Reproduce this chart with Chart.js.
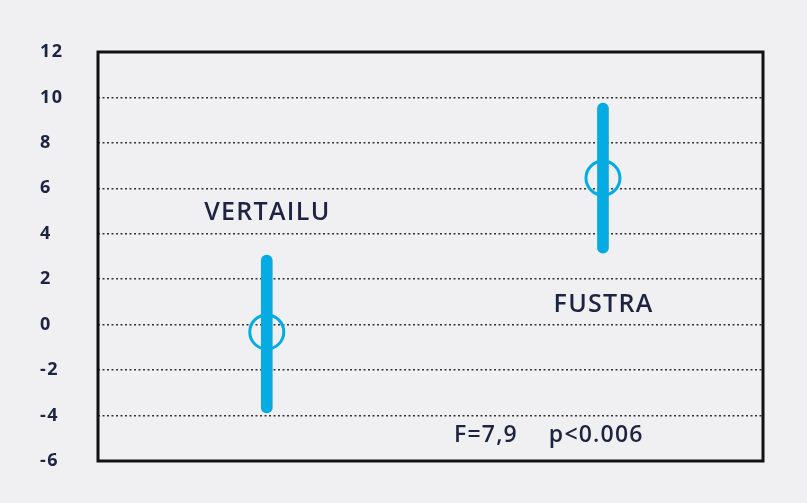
<!DOCTYPE html>
<html>
<head>
<meta charset="utf-8">
<script src="https://cdn.jsdelivr.net/npm/chart.js@4.4.1/dist/chart.umd.min.js"></script>
<style>
  html, body { margin: 0; padding: 0; background: #f0f0f2; }
  #wrap { width: 807px; height: 503px; }
</style>
</head>
<body>
<div id="wrap"><canvas id="c" width="807" height="503"></canvas></div>
<script>
const groups = ['VERTAILU', 'FUSTRA'];
const groupX = [0, 1];
const means = [-0.32, 6.45];
const lows = [-3.88, 3.15];
const highs = [3.06, 9.75];
const yTickValues = [-6, -4, -2, 0, 2, 4, 6, 8, 10, 12];
const statF = 'F=7,9';
const statP = 'p<0.006';

const blue = '#05ace3';
const navy = '#1d2340';

const rangeData = groupX.map((x, i) => ({ x: x, y: [lows[i], highs[i]] }));
const meanData = groupX.map((x, i) => ({ x: x, y: means[i] }));

const spacing = {
  id: 'spacing',
  beforeDraw(chart) { chart.ctx.letterSpacing = '1.5px'; },
  afterDraw(chart) { chart.ctx.letterSpacing = '0px'; }
};

const frame = {
  id: 'frame',
  afterDatasetsDraw(chart) {
    const { ctx, chartArea: a, scales } = chart;
    ctx.save();
    ctx.letterSpacing = '0px';
    ctx.strokeStyle = '#111';
    ctx.lineWidth = 3;
    ctx.strokeRect(a.left, a.top, a.right - a.left, a.bottom - a.top);
    ctx.fillStyle = navy;
    ctx.textAlign = 'center';
    ctx.textBaseline = 'middle';
    ctx.font = '600 25px "Open Sans"';
    ctx.letterSpacing = '1.3px';
    ctx.fillText(groups[0], scales.x.getPixelForValue(groupX[0]) + 0.6, scales.y.getPixelForValue(4.9));
    ctx.fillText(groups[1], scales.x.getPixelForValue(groupX[1]) + 0.6, scales.y.getPixelForValue(0.87));
    ctx.font = '600 23px "Open Sans"';
    ctx.letterSpacing = '1.2px';
    ctx.fillText(statF, scales.x.getPixelForValue(0.652), scales.y.getPixelForValue(-4.86));
    ctx.fillText(statP, scales.x.getPixelForValue(0.98), scales.y.getPixelForValue(-4.86));
    ctx.restore();
  }
};

new Chart(document.getElementById('c'), {
  type: 'bar',
  data: {
    datasets: [
      {
        type: 'bar',
        data: rangeData,
        backgroundColor: blue,
        borderColor: blue,
        borderWidth: 0,
        barThickness: 11,
        borderRadius: 6,
        borderSkipped: false,
        order: 0
      },
      {
        type: 'scatter',
        data: meanData,
        pointStyle: 'circle',
        pointRadius: 17,
        pointBorderWidth: 3,
        borderColor: blue,
        backgroundColor: 'rgba(0,0,0,0)',
        order: 1
      }
    ]
  },
  options: {
    responsive: false,
    animation: false,
    events: [],
    layout: { padding: { left: 40, top: 52, right: 44, bottom: 42 } },
    plugins: { legend: { display: false }, tooltip: { enabled: false } },
    scales: {
      x: {
        type: 'linear',
        display: false,
        min: -0.502,
        max: 1.476,
        offset: false
      },
      y: {
        type: 'linear',
        min: -6,
        max: 12,
        afterBuildTicks(scale) { scale.ticks = yTickValues.map(v => ({ value: v })); },
        afterFit(scale) { scale.width = 58; },
        border: { display: false, dash: [2, 2.5] },
        grid: {
          drawTicks: false,
          lineWidth: 1.5,
          color: (c) => (c.tick && (c.tick.value === -6 || c.tick.value === 12)) ? 'rgba(0,0,0,0)' : '#333'
        },
        ticks: {
          crossAlign: 'far',
          padding: 0,
          color: navy,
          font: { family: '"Open Sans"', size: 18, weight: '700' }
        }
      }
    }
  },
  plugins: [spacing, frame]
});
</script>
</body>
</html>
